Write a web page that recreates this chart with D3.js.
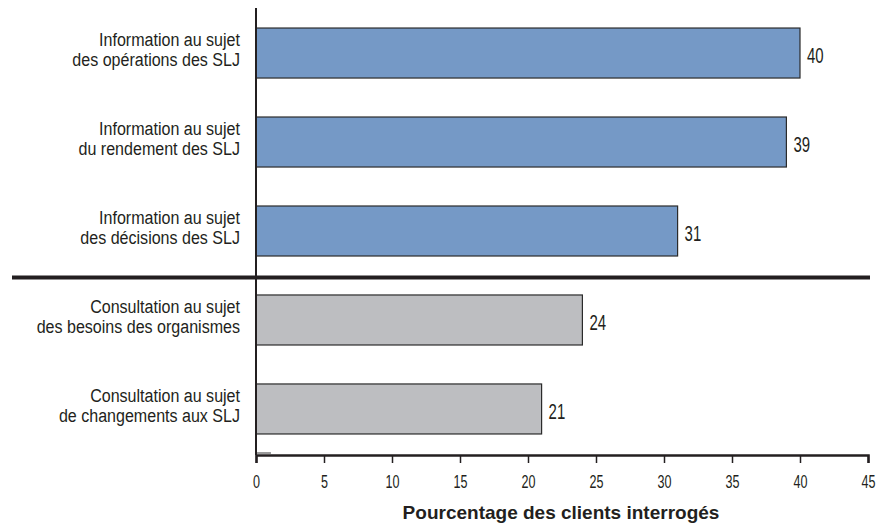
<!DOCTYPE html>
<html><head><meta charset="utf-8">
<script src="https://cdn.jsdelivr.net/npm/d3@7"></script>
<style>
body{margin:0;background:#fff;}
svg{display:block;}
text{font-family:"Liberation Sans",Arial,sans-serif;fill:#231f20;}
</style></head>
<body>
<svg id="c" width="881" height="525"></svg>
<script>
const categories = [
  ["Information au sujet","des opérations des SLJ"],
  ["Information au sujet","du rendement des SLJ"],
  ["Information au sujet","des décisions des SLJ"],
  ["Consultation au sujet","des besoins des organismes"],
  ["Consultation au sujet","de changements aux SLJ"]
];
const values = [40, 39, 31, 24, 21];
const groups = ["info","info","info","consult","consult"];
const tickValues = [0,5,10,15,20,25,30,35,40,45];
const axisTitle = "Pourcentage des clients interrogés";
const colors = {info:"#7599c6", consult:"#bdbec1"};
const LABEL_SCALE = 0.845, DIGIT_SCALE = 0.68;

const svg = d3.select("#c");
const x = d3.scaleLinear().domain([0,45]).range([256,868]);
const y = d3.scaleBand().domain(d3.range(categories.length)).range([8,454]).paddingInner(0.438).paddingOuter(0.225);

// bars
svg.selectAll("rect.bar").data(values).enter().append("rect")
  .attr("x", x(0))
  .attr("y", (d,i)=>y(i))
  .attr("width", d=>x(d)-x(0))
  .attr("height", y.bandwidth())
  .attr("fill", (d,i)=>colors[groups[i]])
  .attr("stroke","#2b2b2b").attr("stroke-width",1.2);

// value labels
svg.selectAll("text.val").data(values).enter().append("text")
  .attr("transform",(d,i)=>`translate(${x(d)+7},${y(i)+y.bandwidth()/2+10.3}) scale(${DIGIT_SCALE},1)`)
  .attr("font-size",22)
  .text(d=>d);

// category labels
const labG = svg.append("g").attr("transform",`translate(240,0) scale(${LABEL_SCALE},1)`);
const lab = labG.selectAll("text.cat").data(categories).enter().append("text")
  .attr("text-anchor","end")
  .attr("font-size",19);
lab.each(function(d,i){
  const cy = y(i)+y.bandwidth()/2;
  d3.select(this).selectAll("tspan").data(d).enter().append("tspan")
    .attr("x", 0)
    .attr("y", (t,j)=>cy - 7 + j*20)
    .text(t=>t);
});

// x axis
const ax = svg.append("g").attr("transform","translate(0,455)")
  .call(d3.axisBottom(x).tickValues(tickValues).tickSize(8).tickSizeOuter(8).tickPadding(12));
ax.select(".domain").attr("stroke","#231f20").attr("stroke-width",2.5);
ax.selectAll(".tick line").attr("stroke","#231f20").attr("stroke-width",1.5);
ax.selectAll(".tick text").attr("font-family",'"Liberation Sans",Arial,sans-serif').attr("font-size",18.5).attr("fill","#231f20")
  .attr("transform",`scale(${DIGIT_SCALE},1)`);

// y axis line
svg.append("line").attr("x1",x(0)).attr("x2",x(0)).attr("y1",8).attr("y2",455)
  .attr("stroke","#231f20").attr("stroke-width",2);

// small grey mark
svg.append("line").attr("x1",x(0)+1).attr("x2",x(1.1)).attr("y1",453).attr("y2",453)
  .attr("stroke","#9a9a9a").attr("stroke-width",2);

// separator between groups
const sepY = (y(2)+y.bandwidth()+y(3))/2 + 2;
svg.append("line").attr("x1",12).attr("x2",870).attr("y1",sepY).attr("y2",sepY)
  .attr("stroke","#231f20").attr("stroke-width",4);

// axis title
svg.append("text").attr("x",561).attr("y",519).attr("text-anchor","middle")
  .attr("font-weight","bold").attr("font-size",19)
  .text(axisTitle);
</script>
</body></html>
